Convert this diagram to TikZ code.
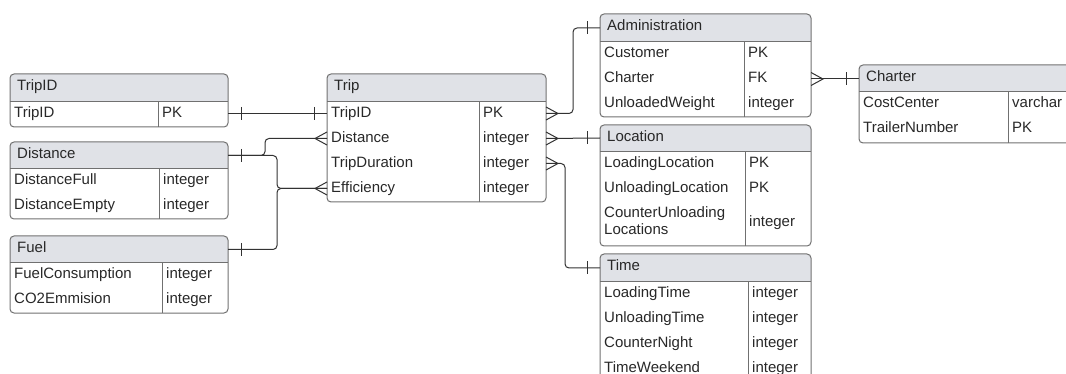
\documentclass[tikz,border=0pt]{standalone}
\usepackage{fontspec}
\setmainfont{Liberation Sans}
\usetikzlibrary{calc}
\definecolor{hcol}{RGB}{224,226,231}
\definecolor{bcol}{RGB}{112,112,112}
\definecolor{tcol}{RGB}{40,40,40}
\definecolor{ccol}{RGB}{50,50,50}
\tikzset{
  tblline/.style={draw=bcol, line width=1pt},
  txt/.style={anchor=west, inner sep=0pt, text=tcol, font=\fontsize{15}{17}\selectfont, text height=11pt, text depth=5pt},
  anc/.style={draw=none, inner sep=0pt, outer sep=0pt, anchor=north west},
  conn/.style={draw=ccol, line width=1pt, rounded corners=4pt},
  tipline/.style={draw=ccol, line width=1pt},
}
% x1 y1 x2 yh y2 xd
\newcommand{\erbox}[6]{%
  \begin{scope}
    \clip[rounded corners=4pt] (#1,#2) rectangle (#3,#5);
    \fill[hcol] (#1,#2) rectangle (#3,#4);
  \end{scope}
  \draw[tblline] (#1,#4) -- (#3,#4) (#6,#4) -- (#6,#5);
  \draw[tblline, rounded corners=4pt] (#1,#2) rectangle (#3,#5);
}
\newcommand{\crowR}[1]{\draw[tipline] ($(#1)+(0,-6.5)$) -- ($(#1)+(12,0)$) -- ($(#1)+(0,6.5)$);}
\newcommand{\crowL}[1]{\draw[tipline] ($(#1)+(0,-6.5)$) -- ($(#1)+(-12,0)$) -- ($(#1)+(0,6.5)$);}
\newcommand{\barR}[1]{\draw[tipline] ($(#1)+(13,-6.5)$) -- ($(#1)+(13,6.5)$);}
\newcommand{\barL}[1]{\draw[tipline] ($(#1)+(-13,-6.5)$) -- ($(#1)+(-13,6.5)$);}
\begin{document}
\begin{tikzpicture}[x=1pt, y=-1pt]
\useasboundingbox (0,0) rectangle (1066,374);
\begin{scope}
\clip (0,0) rectangle (1066,374);

% ---------- TripID ----------
\erbox{10}{74}{228}{102}{127}{158}
\node[anc, minimum width=218pt, minimum height=28pt] (tid-h) at (10,74) {};
\node[anc, minimum width=218pt, minimum height=25pt] (tid-r1) at (10,101) {};
\node[txt] (tid-t) at (17,88) {TripID};
\node[txt] (tid-a1) at (14,114.5) {TripID};
\node[txt] (tid-b1) at (162,114.5) {PK};

% ---------- Distance ----------
\erbox{10}{142}{228}{169}{219}{159}
\node[anc, minimum width=218pt, minimum height=27pt] (dist-h) at (10,142) {};
\node[txt] (dist-t) at (17,155.5) {Distance};
\node[txt] (dist-a1) at (14,181.5) {DistanceFull};
\node[txt] (dist-b1) at (163,181.5) {integer};
\node[txt] (dist-a2) at (14,206.5) {DistanceEmpty};
\node[txt] (dist-b2) at (163,206.5) {integer};

% ---------- Fuel ----------
\erbox{10}{236}{228}{263}{313}{162}
\node[anc, minimum width=218pt, minimum height=27pt] (fuel-h) at (10,236) {};
\node[txt] (fuel-t) at (17,249.5) {Fuel};
\node[txt] (fuel-a1) at (14,275.5) {FuelConsumption};
\node[txt] (fuel-b1) at (166,275.5) {integer};
\node[txt] (fuel-a2) at (14,300.5) {CO2Emmision};
\node[txt] (fuel-b2) at (166,300.5) {integer};

% ---------- Trip ----------
\erbox{327}{74}{546}{102}{202}{479}
\node[anc, minimum width=219pt, minimum height=28pt] (trip-h) at (327,74) {};
\node[anc, minimum width=219pt, minimum height=25pt] (trip-r1) at (327,101) {};
\node[anc, minimum width=219pt, minimum height=25pt] (trip-r2) at (327,126) {};
\node[anc, minimum width=219pt, minimum height=25pt] (trip-r3) at (327,151) {};
\node[anc, minimum width=219pt, minimum height=25pt] (trip-r4) at (327,176) {};
\node[txt] (trip-t) at (334,88) {Trip};
\node[txt] (trip-a1) at (331,114.5) {TripID};
\node[txt] (trip-b1) at (483,114.5) {PK};
\node[txt] (trip-a2) at (331,139.5) {Distance};
\node[txt] (trip-b2) at (483,139.5) {integer};
\node[txt] (trip-a3) at (331,164.5) {TripDuration};
\node[txt] (trip-b3) at (483,164.5) {integer};
\node[txt] (trip-a4) at (331,189.5) {Efficiency};
\node[txt] (trip-b4) at (483,189.5) {integer};

% ---------- Administration ----------
\erbox{600}{14}{811}{42}{117}{744}
\node[anc, minimum width=211pt, minimum height=28pt] (adm-h) at (600,14) {};
\node[anc, minimum width=211pt, minimum height=25pt] (adm-r2) at (600,66.5) {};
\node[txt] (adm-t) at (607,28) {Administration};
\node[txt] (adm-a1) at (604,54.5) {Customer};
\node[txt] (adm-b1) at (748,54.5) {PK};
\node[txt] (adm-a2) at (604,79.5) {Charter};
\node[txt] (adm-b2) at (748,79.5) {FK};
\node[txt] (adm-a3) at (604,104.5) {UnloadedWeight};
\node[txt] (adm-b3) at (748,104.5) {integer};

% ---------- Location ----------
\erbox{600}{125}{811}{152}{246}{745}
\node[anc, minimum width=211pt, minimum height=27pt] (loc-h) at (600,124.5) {};
\node[txt] (loc-t) at (607,138.5) {Location};
\node[txt] (loc-a1) at (604,164.5) {LoadingLocation};
\node[txt] (loc-b1) at (749,164.5) {PK};
\node[txt] (loc-a2) at (604,189.5) {UnloadingLocation};
\node[txt] (loc-b2) at (749,189.5) {PK};
\node[txt] (loc-a3) at (604,215) {CounterUnloading};
\node[txt] (loc-a3b) at (604,232) {Locations};
\node[txt] (loc-b3) at (749,223.5) {integer};

% ---------- Time ----------
\erbox{600}{254}{811}{282}{382}{748}
\node[anc, minimum width=211pt, minimum height=28pt] (time-h) at (600,254) {};
\node[txt] (time-t) at (607,268) {Time};
\node[txt] (time-a1) at (604,294.5) {LoadingTime};
\node[txt] (time-b1) at (752,294.5) {integer};
\node[txt] (time-a2) at (604,319.5) {UnloadingTime};
\node[txt] (time-b2) at (752,319.5) {integer};
\node[txt] (time-a3) at (604,344.5) {CounterNight};
\node[txt] (time-b3) at (752,344.5) {integer};
\node[txt] (time-a4) at (604,369.5) {TimeWeekend};
\node[txt] (time-b4) at (752,369.5) {integer};

% ---------- Charter ----------
\erbox{859}{65}{1090}{92}{143}{1008}
\node[anc, minimum width=231pt, minimum height=27pt] (ch-h) at (859,65.5) {};
\node[txt] (ch-t) at (866,78.5) {Charter};
\node[txt] (ch-a1) at (863,104.5) {CostCenter};
\node[txt] (ch-b1) at (1012,104.5) {varchar};
\node[txt] (ch-a2) at (863,129.5) {TrailerNumber};
\node[txt] (ch-b2) at (1012,129.5) {PK};

% ---------- connectors ----------
\draw[conn] (tid-r1.east) -- (trip-r1.west);
\barR{tid-r1.east} \barL{trip-r1.west}

\draw[conn] (dist-h.east) -- ++(37,0) |- (trip-r2.west);
\draw[conn] (dist-h.east) -- ++(49,0) |- (trip-r4.west);
\draw[conn] (fuel-h.east) -- ++(49,0) |- (trip-r4.west);
\barR{dist-h.east} \barR{fuel-h.east}
\crowL{trip-r2.west} \crowL{trip-r4.west}

\draw[conn] (trip-r1.east) -- ++(27,0) |- (adm-h.west);
\crowR{trip-r1.east} \barL{adm-h.west}

\draw[conn] (trip-r2.east) -- (loc-h.west);
\crowR{trip-r2.east} \barL{loc-h.west}

\draw[conn] (trip-r3.east) -- ++(19,0) |- (time-h.west);
\crowR{trip-r3.east} \barL{time-h.west}

\draw[conn] (adm-r2.east) -- (ch-h.west);
\crowR{adm-r2.east} \barL{ch-h.west}
\end{scope}
\end{tikzpicture}
\end{document}
